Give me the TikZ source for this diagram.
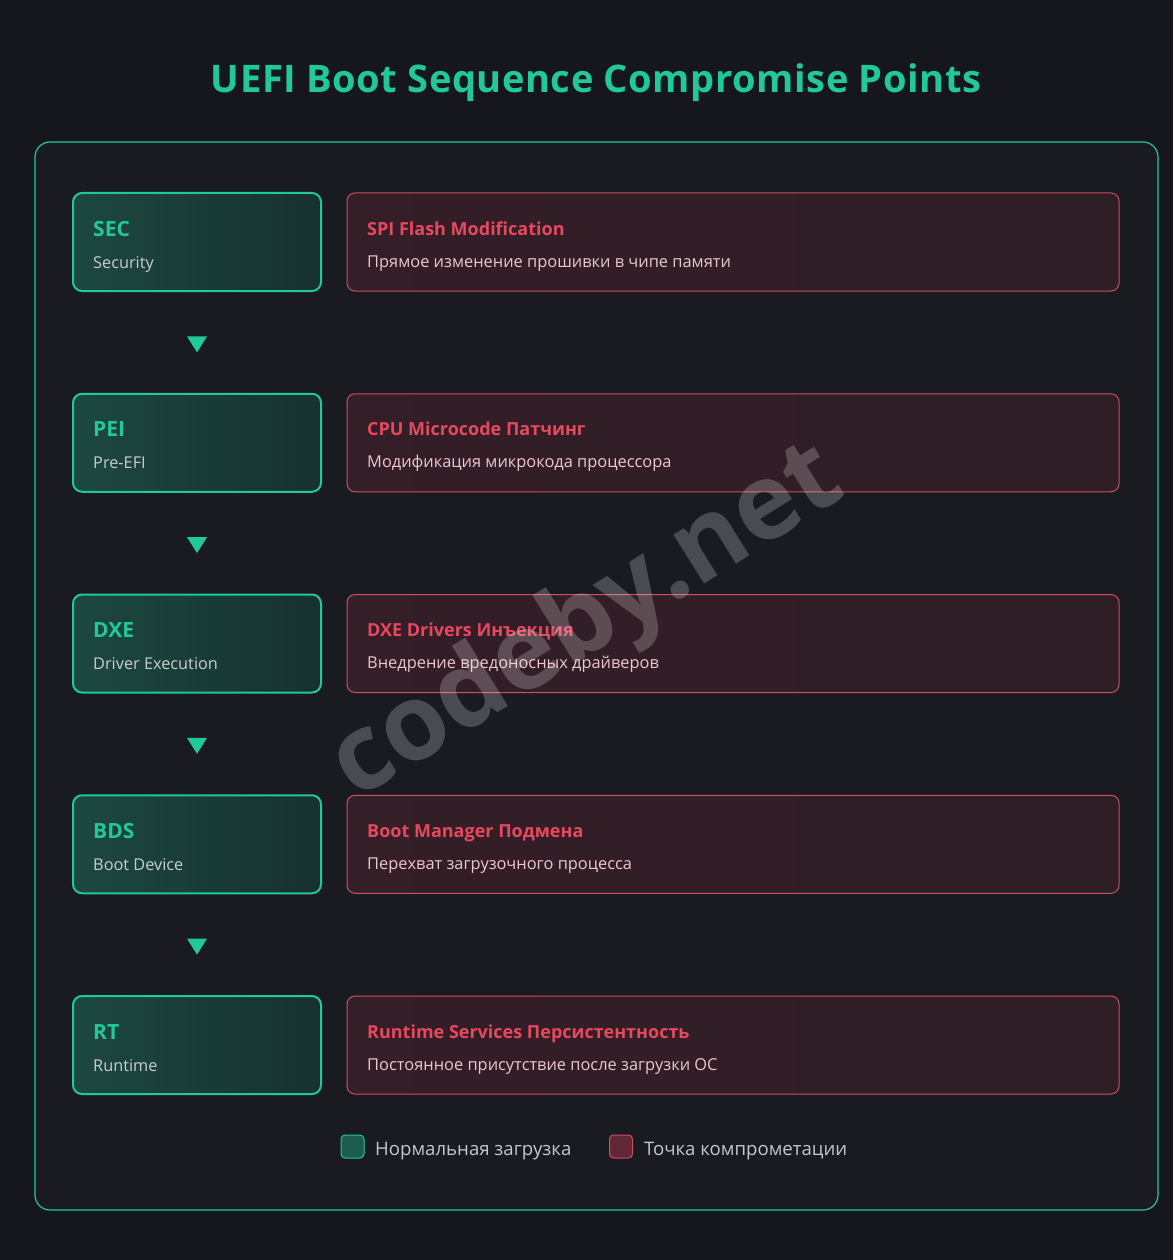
\documentclass[tikz,border=0pt]{standalone}
\usepackage{fontspec}
\setmainfont{Open Sans}
\usetikzlibrary{calc}
\definecolor{bgout}{RGB}{22,23,29}
\definecolor{bgin}{RGB}{26,27,33}
\definecolor{teal}{RGB}{32,201,151}
\definecolor{tealfillL}{RGB}{28,72,63}
\definecolor{tealfillR}{RGB}{23,49,47}
\definecolor{redline}{RGB}{205,78,96}
\definecolor{redtext}{RGB}{232,72,95}
\definecolor{redfillL}{RGB}{52,30,39}
\definecolor{redfillR}{RGB}{46,30,37}
\definecolor{desctext}{RGB}{236,200,205}
\definecolor{subtext}{RGB}{200,206,205}
\definecolor{legtext}{RGB}{198,199,205}
\definecolor{legteal}{RGB}{26,92,78}
\definecolor{legred}{RGB}{96,40,54}
\begin{document}
\begin{tikzpicture}[x=1pt,y=-1pt,
  stagebox/.style={draw=teal,line width=2pt,rounded corners=9pt,minimum width=248pt,minimum height=98pt,left color=tealfillL,right color=tealfillR,inner sep=0pt},
  attackbox/.style={draw=redline,line width=1pt,rounded corners=8pt,minimum width=772pt,minimum height=98pt,left color=redfillL,right color=redfillR,inner sep=0pt},
  stagetitle/.style={anchor=base west,inner sep=0pt,text=teal,font=\fontsize{21}{25}\selectfont\bfseries},
  stagesub/.style={anchor=base west,inner sep=0pt,text=subtext,font=\fontsize{16.3}{20}\selectfont},
  attacktitle/.style={anchor=base west,inner sep=0pt,text=redtext,font=\fontsize{18}{21}\selectfont\bfseries},
  attackdesc/.style={anchor=base west,inner sep=0pt,text=desctext,font=\fontsize{16.4}{20}\selectfont},
  legendtext/.style={anchor=base west,inner sep=0pt,text=legtext,font=\fontsize{18.6}{22}\selectfont},
  flowtip/.style={fill=teal}
]
\useasboundingbox (0,0) rectangle (1173,1260);
\fill[bgout] (0,0) rectangle (1173,1260);
\node[anchor=base,inner sep=0pt,text=teal,font=\fontsize{38}{44}\selectfont\bfseries\addfontfeature{LetterSpace=1.5}] (title) at (596,93) {UEFI Boot Sequence Compromise Points};
\node[draw=teal,line width=1.2pt,fill=bgin,rounded corners=15pt,minimum width=1123pt,minimum height=1068pt,inner sep=0pt] (panel) at (596.5,676) {};
\foreach \i/\n/\t/\s/\a/\d in {
  0/sec/SEC/Security/SPI Flash Modification/Прямое изменение прошивки в чипе памяти,
  1/pei/PEI/Pre-EFI/CPU Microcode Патчинг/Модификация микрокода процессора,
  2/dxe/DXE/Driver Execution/DXE Drivers Инъекция/Внедрение вредоносных драйверов,
  3/bds/BDS/Boot Device/Boot Manager Подмена/Перехват загрузочного процесса,
  4/rt/RT/Runtime/Runtime Services Персистентность/Постоянное присутствие после загрузки ОС}{
  \pgfmathsetmacro{\top}{193+\i*200.75}
  \node[stagebox] (\n) at (197,\top+49) {};
  \node[attackbox] (\n-atk) at (733,\top+49) {};
  \node[stagetitle] (\n-t) at (93,\top+43) {\t};
  \node[stagesub] (\n-s) at (93,\top+75) {\s};
  \node[attacktitle] (\n-at) at (367,\top+42) {\a};
  \node[attackdesc] (\n-ad) at (367,\top+74) {\d};
}
\foreach \a/\b in {sec/pei,pei/dxe,dxe/bds,bds/rt}{
  \coordinate (\a-\b-m) at ($(\a.south)!0.5!(\b.north)+(0,2)$);
  \fill[flowtip] (\a-\b-m) ++(-10,-8) -- ++(20,0) -- ++(-10,16) -- cycle;
}
\node[draw=teal,line width=1pt,fill=legteal,rounded corners=4pt,minimum size=23pt,inner sep=0pt] (leg1) at (352.5,1146.5) {};
\node[legendtext] (leg1-t) at (375,1155) {Нормальная загрузка};
\node[draw=redline,line width=1pt,fill=legred,rounded corners=4pt,minimum size=23pt,inner sep=0pt] (leg2) at (621,1146.5) {};
\node[legendtext] (leg2-t) at (644,1155) {Точка компрометации};
\node[rotate=32,text=white,opacity=0.21,font=\fontsize{106}{116}\selectfont\bfseries,inner sep=0pt] (wm) at (588,624) {codeby.net};
\end{tikzpicture}
\end{document}
